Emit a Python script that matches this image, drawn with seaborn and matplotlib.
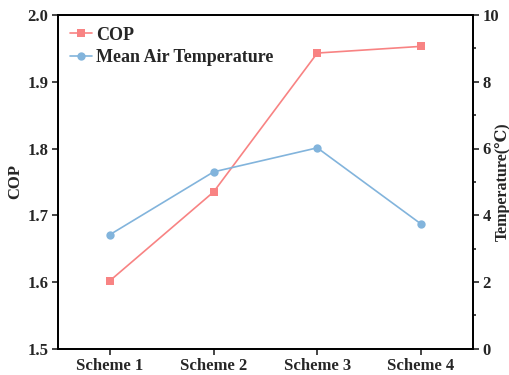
import matplotlib
matplotlib.use("Agg")
import matplotlib.pyplot as plt
import seaborn as sns
import pandas as pd
from matplotlib.ticker import MultipleLocator

schemes = ["Scheme 1", "Scheme 2", "Scheme 3", "Scheme 4"]
cop = [1.602, 1.735, 1.943, 1.953]
temp = [3.42, 5.30, 6.02, 3.74]

sns.set_style("ticks")
plt.rcParams['font.family'] = ['Liberation Serif', 'DejaVu Serif']
plt.rcParams['font.weight'] = 'bold'

df = pd.DataFrame({"Scheme": schemes, "COP": cop, "Temp": temp})

fig, ax = plt.subplots(figsize=(5.1, 3.75), dpi=100)
fig.subplots_adjust(left=0.114, right=0.927, top=0.96, bottom=0.07)
ax2 = ax.twinx()

c1 = "#F88383"
c2 = "#82B4DC"
sns.lineplot(data=df, x="Scheme", y="COP", ax=ax, color=c1, marker="s", markersize=6,
             markeredgewidth=0, linewidth=1.2, label="COP", legend=False, sort=False)
sns.lineplot(data=df, x="Scheme", y="Temp", ax=ax2, color=c2, marker="o", markersize=6,
             markeredgewidth=0, linewidth=1.2, label="Mean Air Temperature", legend=False, sort=False)

ax.set_xlim(-0.5, 3.5)
ax.set_ylim(1.5, 2.0)
ax2.set_ylim(0, 10)
ax.yaxis.set_major_locator(MultipleLocator(0.1))
ax2.yaxis.set_major_locator(MultipleLocator(2))
ax2.yaxis.set_minor_locator(MultipleLocator(1))

ax.set_xlabel("")
ax.set_ylabel("COP", fontsize=12, fontweight="bold")
ax2.set_ylabel("Temperature(\u2103)", fontsize=11.5, fontweight="bold")
ax.yaxis.set_label_coords(-0.084, 0.5)
ax2.yaxis.set_label_coords(1.052, 0.5)

for a in (ax, ax2):
    for s in a.spines.values():
        s.set_linewidth(1.3)
        s.set_color("black")
ax.tick_params(axis="both", which="major", direction="out", length=4, width=1.2, labelsize=12, pad=3)
ax2.tick_params(axis="y", which="major", direction="out", length=4, width=1.2, labelsize=12, pad=3)
ax2.tick_params(axis="y", which="minor", direction="out", length=2.5, width=1.2)
for lbl in ax.get_xticklabels() + ax.get_yticklabels() + ax2.get_yticklabels():
    lbl.set_fontweight("bold")

h1, l1 = ax.get_legend_handles_labels()
h2, l2 = ax2.get_legend_handles_labels()
ax.legend(h1 + h2, l1 + l2, loc="upper left", frameon=False,
          prop={"weight": "bold", "size": 13}, handlelength=1.25, handletextpad=0.2,
          borderaxespad=0.2, borderpad=0.45, labelspacing=0.3)

fig.savefig("out.png", dpi=100)
